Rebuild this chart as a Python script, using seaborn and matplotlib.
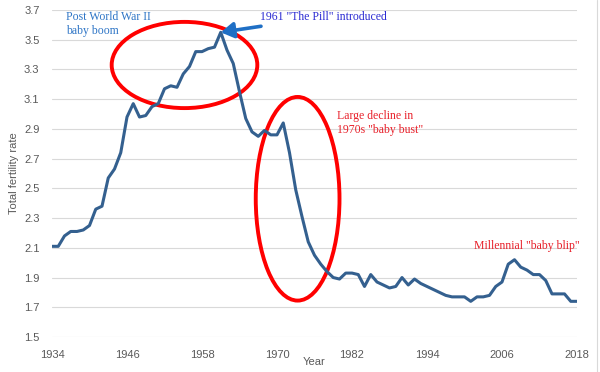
import numpy as np
import pandas as pd
import matplotlib
matplotlib.use('Agg')
import matplotlib.pyplot as plt
from matplotlib.patches import Ellipse
import seaborn as sns

##################################################################
years = list(range(1934, 2019))
tfr = [2.11, 2.11, 2.18, 2.21, 2.21, 2.22, 2.25, 2.36, 2.38, 2.57,
       2.63, 2.74, 2.98, 3.07, 2.98, 2.99, 3.05, 3.07, 3.17, 3.19,
       3.18, 3.27, 3.32, 3.42, 3.42, 3.44, 3.45, 3.55, 3.43, 3.34,
       3.15, 2.97, 2.88, 2.85, 2.89, 2.86, 2.86, 2.94, 2.74, 2.49,
       2.31, 2.14, 2.05, 1.99, 1.94, 1.90, 1.89, 1.93, 1.93, 1.92,
       1.84, 1.92, 1.87, 1.85, 1.83, 1.84, 1.90, 1.85, 1.89, 1.86,
       1.84, 1.82, 1.80, 1.78, 1.77, 1.77, 1.77, 1.74, 1.77, 1.77,
       1.78, 1.84, 1.87, 1.99, 2.02, 1.97, 1.95, 1.92, 1.92, 1.88,
       1.79, 1.79, 1.79, 1.74, 1.74]
xticks = [1934, 1946, 1958, 1970, 1982, 1994, 2006, 2018]
yticks = [1.5, 1.7, 1.9, 2.1, 2.3, 2.5, 2.7, 2.9, 3.1, 3.3, 3.5, 3.7]
##################################################################

df = pd.DataFrame({'Year': years, 'TFR': tfr})

sns.set_style('white')
plt.rcParams['font.family'] = ['Liberation Sans', 'DejaVu Sans']

fig = plt.figure(figsize=(6, 3.72), dpi=100)
ax = fig.add_axes([52/600, 1 - 337/372, 525/600, 327/372])

sns.lineplot(data=df, x='Year', y='TFR', ax=ax, color='#34608f', lw=2.2)

ax.set_xlim(1934, 2018)
ax.set_ylim(1.5, 3.7)
ax.set_xticks(xticks)
ax.set_xticklabels([str(x) for x in xticks])
ax.set_yticks(yticks)
ax.set_yticklabels(['%.1f' % y for y in yticks])
ax.tick_params(axis='both', labelsize=8, labelcolor='#595959', length=0)
ax.tick_params(axis='x', pad=9)
ax.tick_params(axis='y', pad=9)
ax.yaxis.grid(True, color='#d9d9d9', lw=0.8)
ax.xaxis.grid(False)
for s in ['top', 'right', 'left', 'bottom']:
    ax.spines[s].set_visible(False)
ax.set_xlabel('Year', fontsize=8, color='#595959')
ax.xaxis.set_label_coords(0.5, -25/327)
ax.xaxis.label.set_va('center')
ax.set_ylabel('Total fertility rate', fontsize=8, color='#595959')
ax.yaxis.set_label_coords(-38/525, 0.5)
ax.yaxis.label.set_va('center')

#### annotations
serif = ['Liberation Serif', 'DejaVu Serif']
ax.add_patch(Ellipse((1955.2, 3.33), 23.3, 0.58, fill=False, ec='#ff0000', lw=2.8, clip_on=False))
ax.add_patch(Ellipse((1973.3, 2.43), 13.4, 1.37, fill=False, ec='#ff0000', lw=2.8, clip_on=False))

ax.text(1936.2, 3.605, 'Post World War II\nbaby boom', fontsize=8.5, color='#2e75c6',
        family=serif, va='center', ha='left', linespacing=1.25)
ax.annotate('1961 "The Pill" introduced', xy=(1961, 3.55), xytext=(1967.2, 3.653),
            fontsize=8.5, color='#2a2ad2', family=serif, va='center', ha='left',
            arrowprops=dict(arrowstyle='-|>,head_length=0.9,head_width=0.55', color='#1f6fc5',
                            lw=2.6, shrinkA=0, shrinkB=0), annotation_clip=False)
ax.text(1979.6, 2.94, 'Large decline in\n1970s "baby bust"', fontsize=8.5, color='#e8202a',
        family=serif, va='center', ha='left', linespacing=1.25)
ax.text(2001.5, 2.113, 'Millennial "baby blip"', fontsize=8.5, color='#e8202a',
        family=serif, va='center', ha='left')

fig.add_artist(plt.Line2D([596.5/600, 596.5/600], [0, 1], transform=fig.transFigure,
                          color='#d9d9d9', lw=0.8))

fig.savefig('out.png', dpi=100)
